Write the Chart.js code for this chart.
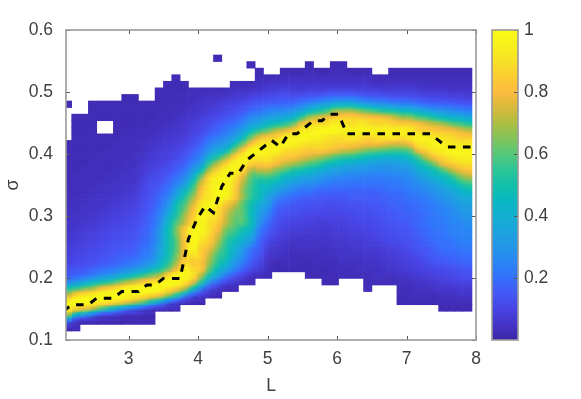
<!DOCTYPE html>
<html>
<head>
<meta charset="utf-8">
<script src="https://cdn.jsdelivr.net/npm/chart.js@4"></script>
<style>
  body { margin: 0; background: #fff; }
  canvas { position: absolute; left: 0; top: 0; }
</style>
</head>
<body>
<canvas id="map" width="581" height="399"></canvas>
<canvas id="bar" width="581" height="399"></canvas>
<script>
const _ = null;

const xTicks = [3, 4, 5, 6, 7, 8];
const yTicks = [0.1, 0.2, 0.3, 0.4, 0.5, 0.6];
const barTicks = [0.2, 0.4, 0.6, 0.8, 1];

/* cell centres along L */
const cellL = [2.122, 2.242, 2.362, 2.482, 2.602, 2.722, 2.842, 2.962, 3.082, 3.202,
  3.322, 3.442, 3.562, 3.682, 3.802, 3.922, 4.042, 4.162, 4.282, 4.402,
  4.522, 4.642, 4.762, 4.882, 5.002, 5.122, 5.242, 5.362, 5.482, 5.602,
  5.722, 5.842, 5.962, 6.082, 6.202, 6.322, 6.442, 6.562, 6.682, 6.802,
  6.922, 7.042, 7.162, 7.282, 7.402, 7.522, 7.642, 7.762, 7.882];
const cellHalf = 0.06;

/* row edges along sigma */
const sigmaEdges = [0.1145, 0.1251, 0.1357, 0.1463, 0.1569, 0.1675, 0.1781, 0.1887, 0.1993, 0.2099,
  0.2205, 0.2311, 0.2417, 0.2523, 0.2629, 0.2735, 0.2841, 0.2947, 0.3053, 0.3159,
  0.3265, 0.3371, 0.3477, 0.3583, 0.3689, 0.3795, 0.3901, 0.4007, 0.4113, 0.4219,
  0.4325, 0.4431, 0.4537, 0.4643, 0.4749, 0.4855, 0.4961, 0.5067, 0.5173, 0.5279,
  0.5385, 0.5491, 0.5597];

/* one list per L column, bottom row first, in percent. _ is an empty cell */
const col00 = [4,22,68,95,94,72,50,26,16,13,10,9,8,7,6,5,5,4,4,3,3,3,2,2,2,2,2,2,2,_,_,_,_,_,2];
const col01 = [3,8,45,88,98,85,55,30,18,14,11,10,9,8,7,6,5,5,4,4,3,3,3,3,2,2,2,2,2,2,2,2,2];
const col02 = [_,5,35,82,98,90,62,36,20,15,12,11,10,9,8,7,6,5,5,4,4,3,3,3,3,2,2,2,2,2,2,2,2];
const col03 = [_,4,25,75,97,94,68,42,24,17,13,12,11,10,9,8,7,6,5,5,4,4,3,3,3,3,2,2,2,2,2,2,2,2,2];
const col04 = [_,3,15,62,95,97,78,48,28,19,15,13,12,11,10,9,8,7,6,5,5,4,4,3,3,3,3,2,2,2,_,_,2,2,2];
const col05 = [_,3,12,52,92,98,84,52,31,21,16,14,13,12,11,10,9,8,7,6,5,5,4,4,3,3,3,3,2,2,_,_,2,2,2];
const col06 = [_,2,9,42,88,98,90,60,36,24,18,16,14,13,12,11,10,9,8,7,6,5,5,4,4,3,3,3,3,2,2,2,2,2,2];
const col07 = [_,2,6,32,82,97,95,68,42,27,20,17,15,14,13,12,11,10,9,8,7,6,5,5,4,4,3,3,3,3,2,2,2,2,2,2];
const col08 = [_,2,5,25,75,95,97,74,48,30,22,18,16,15,14,13,12,11,10,9,8,7,6,5,5,4,4,3,3,3,3,2,2,2,2,2];
const col09 = [_,2,4,18,65,92,98,82,55,35,26,22,20,18,17,16,15,14,13,12,11,10,9,8,7,6,5,4,4,3,3,2,2,2,2];
const col10 = [_,2,3,12,52,88,98,88,62,42,30,26,24,22,21,20,19,18,16,15,14,13,12,11,9,8,7,6,5,4,3,3,2,2,2];
const col11 = [_,_,_,8,40,82,97,92,70,50,40,36,34,32,31,30,27,25,22,20,18,16,14,12,11,9,8,7,6,5,4,3,3,2,2,2,2];
const col12 = [_,_,_,5,25,70,92,97,85,62,52,48,47,47,46,45,42,38,33,28,24,21,18,15,13,11,9,8,7,6,5,4,3,3,2,2,2,2];
const col13 = [_,_,_,4,15,55,85,97,95,78,68,63,60,60,62,63,58,52,48,45,36,30,24,20,16,14,11,10,8,7,6,5,4,3,3,2,2,2,2];
const col14 = [_,_,_,_,8,35,72,92,97,92,85,82,82,82,82,82,72,68,62,57,50,42,32,26,21,17,14,12,10,8,7,6,5,4,3,3,2,2];
const col15 = [_,_,_,_,4,18,50,78,90,88,85,90,96,97,97,96,88,84,80,74,66,58,50,40,31,24,19,16,13,11,9,8,6,5,4,3,3];
const col16 = [_,_,_,_,3,10,28,55,72,82,82,85,86,90,95,97,96,96,94,90,84,80,74,62,46,34,26,21,17,14,11,10,8,6,5,4,3];
const col17 = [_,_,_,_,_,5,14,32,50,62,68,72,78,84,87,90,90,93,96,96,92,92,90,86,70,55,40,30,24,19,15,12,10,8,6,5,3];
const col18 = [_,_,_,_,_,3,8,20,36,46,54,58,64,70,75,80,84,88,90,94,98,98,96,94,86,70,52,38,29,23,18,15,12,9,7,5,3,_,_,_,_,2];
const col19 = [_,_,_,_,_,_,4,12,24,36,44,50,52,55,60,65,72,74,78,86,96,97,97,97,95,85,66,46,34,27,22,18,14,11,9,6,4];
const col20 = [_,_,_,_,_,_,3,8,16,26,32,38,42,46,52,58,62,64,68,76,85,86,88,92,95,95,84,64,46,34,27,21,16,13,10,7,5,3];
const col21 = [_,_,_,_,_,_,_,5,10,18,24,28,32,38,44,50,58,60,60,62,68,68,72,78,88,94,94,82,62,45,34,26,20,15,12,8,5,3];
const col22 = [_,_,_,_,_,_,_,3,6,12,16,19,22,30,36,42,47,47,48,50,55,56,58,62,72,86,94,96,80,62,45,33,26,19,14,10,6,3,_,_,2];
const col23 = [_,_,_,_,_,_,_,_,4,8,11,14,16,18,22,25,30,33,36,40,47,48,50,58,72,84,93,97,90,76,55,38,29,21,16,11,7,4,3,2];
const col24 = [_,_,_,_,_,_,_,_,3,4,5,7,9,11,14,17,20,24,28,33,36,42,48,58,72,85,92,96,92,82,62,45,33,24,17,12,8,5,3];
const col25 = [_,_,_,_,_,_,_,_,_,2,3,5,6,8,10,12,14,16,18,22,28,36,44,54,66,80,88,95,94,86,70,50,36,26,18,13,9,6,3];
const col26 = [_,_,_,_,_,_,_,_,_,2,3,4,5,6,8,9,11,13,15,18,23,30,38,46,60,74,84,90,96,92,76,54,38,27,19,14,10,6,4,2];
const col27 = [_,_,_,_,_,_,_,_,_,2,3,3,4,5,7,8,10,12,14,16,20,26,33,42,54,70,82,88,95,94,84,62,43,30,20,14,9,6,4,2];
const col28 = [_,_,_,_,_,_,_,_,_,2,2,3,4,5,6,8,9,11,13,15,18,23,30,38,50,65,78,86,92,97,92,78,55,36,24,15,9,6,4,2];
const col29 = [_,_,_,_,_,_,_,_,2,2,2,3,4,5,6,7,9,10,12,14,17,22,28,36,46,60,74,84,90,96,94,86,68,44,28,16,10,6,4,3,2];
const col30 = [_,_,_,_,_,_,_,_,2,2,3,3,4,5,6,7,8,10,12,14,16,20,26,33,42,56,70,84,90,95,97,88,74,50,32,18,10,6,4,2];
const col31 = [_,_,_,_,_,_,_,2,2,2,3,4,4,5,6,7,8,10,11,13,15,19,24,30,38,50,66,82,88,92,97,90,78,56,36,20,11,6,4,2];
const col32 = [_,_,_,_,_,_,_,2,2,3,3,4,5,6,7,8,9,10,11,13,15,18,22,28,35,46,60,78,86,90,97,94,84,66,40,22,12,6,4,3,2];
const col33 = [_,_,_,_,_,_,_,_,3,3,4,5,5,6,7,8,9,10,12,13,15,18,22,26,33,42,56,74,85,90,95,92,85,68,42,22,12,6,4,3,2];
const col34 = [_,_,_,_,_,_,_,_,3,3,4,5,6,7,8,9,10,11,12,14,16,18,21,25,31,40,54,72,84,92,95,90,85,68,42,22,12,6,4,2];
const col35 = [_,_,_,_,_,_,_,_,3,4,4,5,6,7,8,9,11,12,13,14,16,18,21,25,30,38,50,68,82,90,96,92,84,64,38,20,11,6,4,2];
const col36 = [_,_,_,_,_,_,3,3,3,4,5,6,7,8,9,10,11,12,13,15,16,18,21,24,29,36,47,64,80,88,96,90,82,60,35,18,10,6,4,2];
const col37 = [_,_,_,_,_,_,_,3,4,4,5,6,7,9,10,11,12,13,14,15,16,18,21,24,28,34,45,62,80,90,94,88,80,56,32,17,10,5,3];
const col38 = [_,_,_,_,_,_,_,3,4,5,6,7,8,10,11,12,13,14,15,16,17,19,21,24,28,33,43,60,78,92,95,88,78,52,30,16,9,5,3];
const col39 = [_,_,_,_,_,_,_,3,4,6,7,8,9,11,12,13,14,15,16,17,18,20,22,25,29,33,43,58,76,92,94,86,74,50,28,15,9,5,3,2];
const col40 = [_,_,_,_,2,2,3,4,5,7,8,9,10,12,13,14,15,16,17,18,19,21,23,26,30,35,44,58,76,90,94,85,68,46,26,15,9,5,3,2];
const col41 = [_,_,_,_,2,3,3,4,6,8,9,10,12,13,14,15,16,17,18,19,21,23,25,28,32,38,48,62,80,92,93,84,66,44,25,14,9,5,3,2];
const col42 = [_,_,_,_,2,3,4,5,7,9,10,12,14,15,16,17,18,18,19,20,22,25,28,32,38,46,58,78,90,95,88,80,60,40,23,13,8,5,3,2];
const col43 = [_,_,_,_,2,3,4,6,8,10,12,14,15,17,18,19,20,20,21,22,24,27,31,37,44,55,72,86,93,95,86,76,56,36,20,12,7,4,3,2];
const col44 = [_,_,_,_,2,3,5,7,9,11,14,16,17,19,20,21,22,22,23,24,27,30,35,42,50,66,82,92,96,92,84,72,50,32,19,11,7,4,3,2];
const col45 = [_,_,_,2,3,4,6,8,10,12,15,17,19,20,21,22,23,24,25,27,30,34,40,47,60,78,88,95,95,90,82,68,46,30,18,11,7,4,3,2];
const col46 = [_,_,_,2,3,4,6,9,11,13,16,18,20,21,23,24,25,26,27,30,33,38,45,54,70,84,92,97,93,88,80,62,42,28,17,10,6,4,3,2];
const col47 = [_,_,_,2,3,5,7,10,12,14,17,19,21,23,24,25,26,28,30,33,37,43,52,64,78,88,95,97,92,85,76,58,40,26,16,10,6,4,3,2];
const col48 = [_,_,_,2,3,5,7,10,13,15,18,20,22,24,25,26,28,30,32,35,40,47,57,70,82,90,95,96,92,84,72,54,37,24,15,9,6,4,3,2];

const columns = [col00, col01, col02, col03, col04, col05, col06, col07, col08, col09,
  col10, col11, col12, col13, col14, col15, col16, col17, col18, col19,
  col20, col21, col22, col23, col24, col25, col26, col27, col28, col29,
  col30, col31, col32, col33, col34, col35, col36, col37, col38, col39,
  col40, col41, col42, col43, col44, col45, col46, col47, col48];

/* dashed ridge line */
const ridgeL = [2.062, 2.182, 2.302, 2.422, 2.542, 2.662, 2.782, 2.902, 3.022, 3.142,
  3.262, 3.382, 3.502, 3.622, 3.742, 3.862, 3.982, 4.102, 4.222, 4.342,
  4.462, 4.582, 4.702, 4.822, 4.942, 5.062, 5.182, 5.302, 5.422, 5.542,
  5.662, 5.782, 5.902, 6.022, 6.142, 6.262, 6.382, 6.502, 6.622, 6.742,
  6.862, 6.982, 7.102, 7.222, 7.342, 7.462, 7.582, 7.702, 7.822, 7.942];
const ridgeSigma = [0.1463, 0.1569, 0.1569, 0.1569, 0.1675, 0.1675, 0.1675, 0.1781, 0.1781, 0.1781,
  0.1887, 0.1887, 0.1993, 0.1993, 0.1993, 0.2629, 0.2947, 0.3159, 0.3053, 0.3477,
  0.3689, 0.3689, 0.3901, 0.4007, 0.4113, 0.4219, 0.4113, 0.4325, 0.4325, 0.4431,
  0.4537, 0.4537, 0.4643, 0.4643, 0.4325, 0.4325, 0.4325, 0.4325, 0.4325, 0.4325,
  0.4325, 0.4325, 0.4325, 0.4325, 0.4325, 0.4219, 0.4113, 0.4113, 0.4113, 0.4113];

/* parula, one colour every 0.05 */
const parula = [[62, 38, 168], [68, 52, 200], [72, 68, 228], [68, 88, 246], [52, 112, 252],
  [42, 132, 246], [34, 150, 232], [28, 163, 222], [18, 175, 208], [8, 184, 194],
  [18, 192, 170], [45, 197, 150], [85, 200, 120], [130, 196, 90], [175, 190, 65],
  [215, 186, 60], [252, 187, 62], [251, 205, 50], [248, 225, 38], [247, 240, 28], [249, 251, 21]];

function colorOf(v) {
  const t = Math.min(Math.max(v, 0), 1) * (parula.length - 1);
  const i = Math.min(Math.floor(t), parula.length - 2);
  const f = t - i;
  const c = parula[i].map((a, n) => Math.round(a + (parula[i + 1][n] - a) * f));
  return `rgb(${c[0]},${c[1]},${c[2]})`;
}

/* value of a neighbour cell, or the fallback when it is empty */
function cellValue(c, k, fallback) {
  const col = columns[c];
  const v = col ? col[k] : null;
  return v === null || v === undefined ? fallback : v / 100;
}

/* shade one cell along the local slope so the map reads smooth, like the original */
function cellFill(ctx) {
  if (!ctx.raw) return "#fff";
  const { c, k, v } = ctx.raw;
  const { x, y } = ctx.chart.scales;
  const x0 = x.getPixelForValue(cellL[c] - cellHalf);
  const x1 = x.getPixelForValue(cellL[c] + cellHalf);
  const y0 = y.getPixelForValue(sigmaEdges[k]);
  const y1 = y.getPixelForValue(sigmaEdges[k + 1]);
  const w = x1 - x0;
  const h = y0 - y1;
  /* scales have no size yet on the first pass */
  if (!(w > 0 && h > 0)) return colorOf(v);
  const gx = (cellValue(c + 1, k, v) - cellValue(c - 1, k, v)) / (2 * w);
  const gy = (cellValue(c, k - 1, v) - cellValue(c, k + 1, v)) / (2 * h);
  const len = Math.hypot(gx, gy);
  if (len === 0) return colorOf(v);
  const ux = gx / len;
  const uy = gy / len;
  const e = (Math.abs(ux) * w + Math.abs(uy) * h) / 2;
  const cx = (x0 + x1) / 2;
  const cy = (y0 + y1) / 2;
  const g = ctx.chart.ctx.createLinearGradient(cx - ux * e, cy - uy * e, cx + ux * e, cy + uy * e);
  g.addColorStop(0, colorOf(v - len * e));
  g.addColorStop(0.5, colorOf(v));
  g.addColorStop(1, colorOf(v + len * e));
  return g;
}

const textColor = "#404040";
const fontFamily = "'Liberation Sans', Arial, sans-serif";
Chart.defaults.font.family = fontFamily;
Chart.defaults.font.size = 17.5;
Chart.defaults.color = textColor;
Chart.defaults.animation = false;

/* box round the axes and short inward ticks */
const boxPlugin = {
  id: "box",
  afterDraw(chart, args, opts) {
    const { ctx, chartArea: a, scales } = chart;
    ctx.save();
    ctx.strokeStyle = "#555";
    ctx.lineWidth = 1;
    ctx.beginPath();
    if (opts.x) {
      scales.x.ticks.forEach((t) => {
        const p = Math.round(scales.x.getPixelForValue(t.value)) + 0.5;
        ctx.moveTo(p, a.bottom);
        ctx.lineTo(p, a.bottom - 4);
        ctx.moveTo(p, a.top);
        ctx.lineTo(p, a.top + 4);
      });
    }
    scales.y.ticks.forEach((t) => {
      const p = Math.round(scales.y.getPixelForValue(t.value)) + 0.5;
      if (opts.x) {
        ctx.moveTo(a.left, p);
        ctx.lineTo(a.left + 4, p);
      }
      ctx.moveTo(a.right, p);
      ctx.lineTo(a.right - 4, p);
    });
    ctx.stroke();
    ctx.strokeStyle = "#9a9a9a";
    ctx.lineWidth = 1.6;
    ctx.strokeRect(a.left, a.top, a.right - a.left, a.bottom - a.top);
    ctx.restore();
  },
};

const cellSets = columns.map((col, c) => {
  const data = [];
  col.forEach((v, k) => {
    if (v !== null) data.push({ x: cellL[c], y: [sigmaEdges[k], sigmaEdges[k + 1]], c, k, v: v / 100 });
  });
  return {
    type: "bar",
    data,
    order: 1,
    grouped: false,
    barPercentage: 1,
    categoryPercentage: 1,
    backgroundColor: cellFill,
  };
});

new Chart(document.getElementById("map"), {
  type: "bar",
  data: {
    datasets: [
      {
        type: "line",
        order: 0,
        data: ridgeL.map((x, i) => ({ x, y: ridgeSigma[i] })),
        borderColor: "#000",
        borderWidth: 3,
        borderDash: [7.5, 7.5],
        pointRadius: 0,
        tension: 0,
      },
      ...cellSets,
    ],
  },
  options: {
    responsive: false,
    layout: { padding: { top: 30, right: 105, bottom: 0, left: 0 } },
    plugins: { legend: { display: false }, tooltip: { enabled: false }, box: { x: true } },
    scales: {
      x: {
        type: "linear",
        offset: false,
        min: 2.1,
        max: 8,
        grid: { display: false, drawTicks: false },
        border: { display: false },
        afterBuildTicks: (s) => { s.ticks = xTicks.map((value) => ({ value })); },
        afterFit: (s) => { s.height = 59; },
        ticks: { padding: 9, maxRotation: 0 },
        title: { display: true, text: "L", color: textColor, font: { size: 17.5 }, padding: { top: 0, bottom: 2 } },
      },
      y: {
        min: 0.1,
        max: 0.6,
        grid: { display: false, drawTicks: false },
        border: { display: false },
        afterBuildTicks: (s) => { s.ticks = yTicks.map((value) => ({ value })); },
        afterFit: (s) => { s.width = 66; },
        ticks: { padding: 13, callback: (v) => String(v) },
        title: { display: true, text: "σ", color: textColor, font: { size: 18 }, padding: { top: 2, bottom: 0 } },
      },
    },
  },
  plugins: [boxPlugin],
});

new Chart(document.getElementById("bar"), {
  type: "bar",
  data: {
    labels: ["c"],
    datasets: [
      {
        data: [[0, 1]],
        barPercentage: 1,
        categoryPercentage: 1,
        backgroundColor: (ctx) => {
          const a = ctx.chart.chartArea;
          if (!a) return "#fff";
          const g = ctx.chart.ctx.createLinearGradient(0, a.bottom, 0, a.top);
          parula.forEach((c, i) => g.addColorStop(i / (parula.length - 1), `rgb(${c[0]},${c[1]},${c[2]})`));
          return g;
        },
      },
    ],
  },
  options: {
    responsive: false,
    layout: { padding: { top: 30, left: 492, bottom: 59, right: 0 } },
    plugins: { legend: { display: false }, tooltip: { enabled: false }, box: { x: false } },
    scales: {
      x: { display: false },
      y: {
        position: "right",
        min: 0,
        max: 1,
        grid: { display: false, drawTicks: false },
        border: { display: false },
        afterBuildTicks: (s) => { s.ticks = barTicks.map((value) => ({ value })); },
        afterFit: (s) => { s.width = 63; },
        ticks: { padding: 6, callback: (v) => String(v) },
      },
    },
  },
  plugins: [boxPlugin],
});
</script>
</body>
</html>
